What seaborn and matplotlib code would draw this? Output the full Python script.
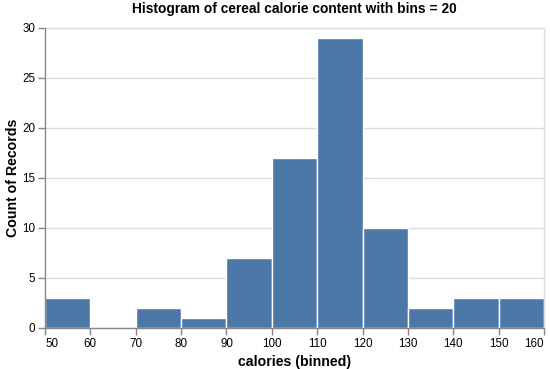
import matplotlib
matplotlib.use("Agg")
import matplotlib.pyplot as plt
import seaborn as sns
import numpy as np

# binned calorie data (bin start, count)
bin_starts = [50, 60, 70, 80, 90, 100, 110, 120, 130, 140, 150]
counts = [3, 0, 2, 1, 7, 17, 29, 10, 2, 3, 3]
bin_width = 10
x_ticks = [50, 60, 70, 80, 90, 100, 110, 120, 130, 140, 150, 160]
y_ticks = [0, 5, 10, 15, 20, 25, 30]

sns.set_theme(style="white")
plt.rcParams['font.family'] = ['Liberation Sans', 'DejaVu Sans']
plt.rcParams['text.color'] = 'black'
plt.rcParams['axes.labelcolor'] = 'black'

fig = plt.figure(figsize=(5.5, 3.69), dpi=100)
ax = fig.add_axes([45 / 550, 1 - 328 / 369, 499 / 550, 300 / 369])

edges = bin_starts + [bin_starts[-1] + bin_width]
centers = [b + bin_width / 2 for b in bin_starts]
sns.histplot(x=centers, weights=counts, bins=edges, color="#4c78a8",
             edgecolor="white", linewidth=1, alpha=1, ax=ax)

ax.set_xlim(50, 160)
ax.set_ylim(0, 30)
ax.set_xticks(x_ticks)
ax.set_yticks(y_ticks)
ax.yaxis.grid(True, color="#dddddd", linewidth=1)
ax.set_axisbelow(True)

for side in ['top', 'right']:
    ax.spines[side].set_color("#dddddd")
    ax.spines[side].set_linewidth(1)
for side in ['left', 'bottom']:
    ax.spines[side].set_color("#888888")
    ax.spines[side].set_linewidth(1)
    ax.spines[side].set_zorder(5)

ax.tick_params(axis='both', which='major', length=5, width=1, color="#888888",
               labelsize=8.4, labelcolor="#000000", pad=2, direction='out',
               bottom=True, left=True)

# flush first / last x labels like vega-lite
xlabels = ax.get_xticklabels()
xlabels[0].set_ha('left')
xlabels[-1].set_ha('right')

ax.set_xlabel("calories (binned)", fontsize=10.2, fontweight='bold', labelpad=4, color='black')
ax.set_ylabel("Count of Records", fontsize=10.2, fontweight='bold', color='black')
ax.yaxis.set_label_coords(-0.051, 0.5)
ax.set_title("Histogram of cereal calorie content with bins = 20",
             fontsize=9.9, fontweight='bold', pad=11, color='black')

fig.savefig("out.png", dpi=100)
